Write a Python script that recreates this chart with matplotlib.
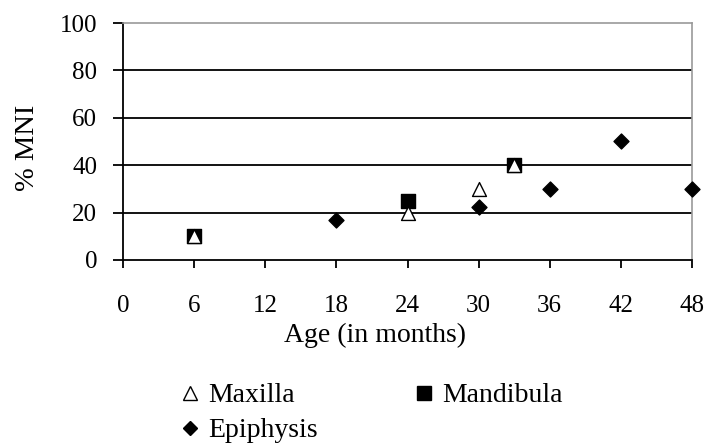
import matplotlib
matplotlib.use("Agg")
import matplotlib.pyplot as plt
from matplotlib.lines import Line2D

plt.rcParams['font.family'] = ['Liberation Serif', 'DejaVu Serif']

maxilla_x = [6, 24, 30, 33]
maxilla_y = [10, 20, 30, 40]
mandibula_x = [6, 24, 33]
mandibula_y = [10, 25, 40]
epiphysis_x = [18, 30, 36, 42, 48]
epiphysis_y = [16.7, 22.5, 30, 50, 30]
x_ticks = [0, 6, 12, 18, 24, 30, 36, 42, 48]
y_ticks = [0, 20, 40, 60, 80, 100]

L, R, T, B = 123, 692, 23, 260
fig = plt.figure(figsize=(7.04, 4.43), dpi=100)
ax = fig.add_axes([L/704, 1-B/443, (R-L)/704, (B-T)/443])

for y in y_ticks[1:-1]:
    ax.axhline(y, color='black', lw=1.3, zorder=1)

ax.scatter(mandibula_x, mandibula_y, marker='s', s=96, c='black', zorder=3, clip_on=False)
ax.scatter(maxilla_x, maxilla_y, marker='^', s=100, facecolors='white', edgecolors='black', linewidths=1.0, zorder=4, clip_on=False)
ax.scatter(epiphysis_x, epiphysis_y, marker='D', s=58, c='black', zorder=3, clip_on=False)

ax.set_xlim(0, 48)
ax.set_ylim(0, 100)
ax.set_xticks(x_ticks)
ax.set_yticks(y_ticks)
ax.tick_params(axis='x', direction='out', length=5.8, width=1.3, labelsize=18, pad=19.4)
ax.tick_params(axis='y', direction='out', length=7.2, width=1.3, labelsize=18, pad=11.5)
for s in ['left', 'bottom']:
    ax.spines[s].set_color('black')
    ax.spines[s].set_linewidth(1.3)
for s in ['top', 'right']:
    ax.spines[s].set_color('#999999')
    ax.spines[s].set_linewidth(1.2)

ax.set_xlabel('Age (in months)', fontsize=20)
ax.xaxis.set_label_coords((375-L)/(R-L), -(323-B)/(B-T))
ax.set_ylabel('% MNI', fontsize=20.5)
ax.yaxis.set_label_coords(-(L-40)/(R-L), (B-147.5)/(B-T))

handles = [
    Line2D([], [], marker='^', ls='', markerfacecolor='white', markeredgecolor='black', markeredgewidth=1.0, markersize=10, label='Maxilla'),
    Line2D([], [], marker='D', ls='', color='black', markersize=7.5, label='Epiphysis'),
    Line2D([], [], marker='s', ls='', color='black', markersize=10.5, label='Mandibula'),
]
fig.legend(handles=handles, loc='upper left', bbox_to_anchor=(179/704, 1-383/443), ncol=2,
           frameon=False, fontsize=20, handletextpad=0.25, handlelength=0.8,
           columnspacing=3.42, labelspacing=0.34, borderpad=0, borderaxespad=0)

fig.savefig('out.png', dpi=100)
